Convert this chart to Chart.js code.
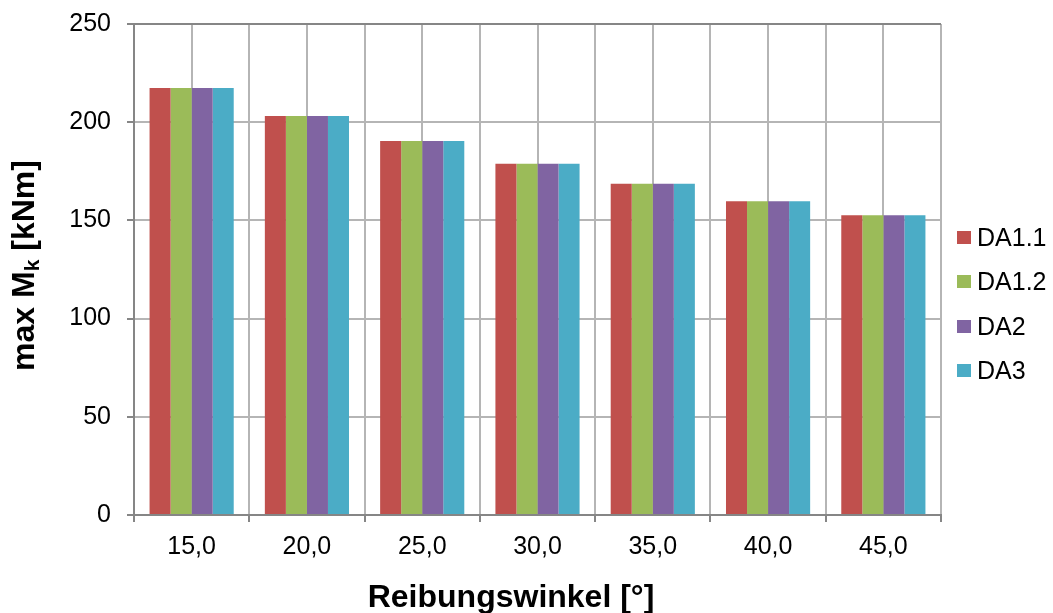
<!DOCTYPE html>
<html>
<head>
<meta charset="utf-8">
<title>max Mk je Reibungswinkel</title>
<script src="https://cdn.jsdelivr.net/npm/chart.js@4.4.0/dist/chart.umd.min.js"></script>
<style>
  html, body { margin: 0; padding: 0; background: #fff; }
  #wrap { position: relative; width: 1053px; height: 613px; }
  #legend {
    position: absolute; left: 957px; top: 215px;
    margin: 0; padding: 0; list-style: none;
    font: 25px "Liberation Sans", Arial, sans-serif; color: #000;
  }
  #legend li { display: flex; align-items: center; height: 44.5px; white-space: nowrap; }
  #legend .box { display: inline-block; width: 14px; height: 13px; margin-right: 6px; }
</style>
</head>
<body>
<div id="wrap">
  <canvas id="chart" width="1053" height="613"></canvas>
  <ul id="legend"></ul>
</div>
<script>
// Reibungswinkel-Stufen und max. Moment je Nachweisverfahren
const categories = ['15,0', '20,0', '25,0', '30,0', '35,0', '40,0', '45,0'];
const da11 = [217.4, 203.2, 190.4, 178.9, 168.7, 159.7, 152.6];
const da12 = [217.4, 203.2, 190.4, 178.9, 168.7, 159.7, 152.6];
const da2  = [217.4, 203.2, 190.4, 178.9, 168.7, 159.7, 152.6];
const da3  = [217.4, 203.2, 190.4, 178.9, 168.7, 159.7, 152.6];
const seriesNames = ['DA1.1', 'DA1.2', 'DA2', 'DA3'];
const seriesColors = ['#C0504D', '#9BBB59', '#8064A2', '#4BACC6'];
const yTicks = [0, 50, 100, 150, 200, 250];

const FONT = '"Liberation Sans", Arial, sans-serif';
const AXIS_GRAY = '#868686';
const GRID_GRAY = '#b5b5b5';

Chart.defaults.font.family = FONT;
Chart.defaults.color = '#000';

// axis titles: y title needs a subscript k, so both are drawn here
const axisTitlePlugin = {
    id: 'axisTitles',
    afterDraw(chart) {
        const c = chart.ctx;
        const area = chart.chartArea;
        const parts = [
            { text: 'max M', font: 'bold 32px ' + FONT, dy: 0 },
            { text: 'k', font: 'bold 21px ' + FONT, dy: 5 },
            { text: ' [kNm]', font: 'bold 32px ' + FONT, dy: 0 }
        ];
        c.save();
        c.fillStyle = '#000';
        c.textBaseline = 'alphabetic';
        c.textAlign = 'left';
        let total = 0;
        parts.forEach(p => { c.font = p.font; p.w = c.measureText(p.text).width; total += p.w; });
        c.save();
        c.translate(34, (area.top + area.bottom) / 2 - 4);
        c.rotate(-Math.PI / 2);
        let x = -total / 2;
        parts.forEach(p => {
            c.font = p.font;
            c.fillText(p.text, x, p.dy);
            x += p.w;
        });
        c.restore();

        c.font = 'bold 32px ' + FONT;
        c.textAlign = 'center';
        c.fillText('Reibungswinkel [°]', 511, 607);
        c.restore();
    }
};

// keep the plot area fixed: no extra label padding from the axes
function noPadding(scale) {
    scale.paddingTop = 0;
    scale.paddingBottom = 0;
    scale.paddingLeft = 0;
    scale.paddingRight = 0;
}

const ctx = document.getElementById('chart');
const data = [da11, da12, da2, da3];

const chart = new Chart(ctx, {
    type: 'bar',
    data: {
        labels: categories,
        datasets: seriesNames.map((name, i) => ({
            label: name,
            data: data[i],
            backgroundColor: seriesColors[i],
            borderWidth: 0,
            categoryPercentage: 0.73,
            barPercentage: 1.0
        }))
    },
    options: {
        responsive: false,
        animation: false,
        layout: {
            padding: { left: 0, top: 24, right: 112, bottom: 0 }
        },
        plugins: {
            legend: { display: false },
            tooltip: { enabled: false }
        },
        scales: {
            x: {
                offset: true,
                grid: {
                    offset: true,
                    color: GRID_GRAY,
                    lineWidth: 2,
                    tickLength: 7,
                    tickColor: AXIS_GRAY,
                    tickWidth: 2
                },
                border: { display: true, color: AXIS_GRAY, width: 2 },
                ticks: {
                    font: { size: 25 },
                    color: '#000',
                    padding: 10,
                    maxRotation: 0
                },
                afterFit: function(scale) { scale.height = 98; noPadding(scale); }
            },
            // extra gridlines through the category centres
            xc: {
                type: 'category',
                position: 'bottom',
                offset: true,
                grid: {
                    offset: false,
                    color: GRID_GRAY,
                    lineWidth: 2,
                    drawTicks: false
                },
                border: { display: false },
                ticks: { display: false },
                afterFit: function(scale) { scale.height = 0; noPadding(scale); }
            },
            y: {
                min: 0,
                max: 250,
                afterBuildTicks: function(scale) {
                    scale.ticks = yTicks.map(v => ({ value: v }));
                },
                grid: {
                    color: c => (c.tick && c.tick.value === 250) ? AXIS_GRAY : GRID_GRAY,
                    lineWidth: 2,
                    tickLength: 7,
                    tickColor: AXIS_GRAY,
                    tickWidth: 2
                },
                border: { display: true, color: AXIS_GRAY, width: 2 },
                ticks: {
                    font: { size: 25 },
                    color: '#000',
                    padding: 16
                },
                afterFit: function(scale) { scale.width = 134; noPadding(scale); }
            }
        }
    },
    plugins: [axisTitlePlugin]
});

// legend list built from the chart's datasets
const legendEl = document.getElementById('legend');
chart.data.datasets.forEach(ds => {
    const li = document.createElement('li');
    const box = document.createElement('span');
    box.className = 'box';
    box.style.background = ds.backgroundColor;
    li.appendChild(box);
    li.appendChild(document.createTextNode(ds.label));
    legendEl.appendChild(li);
});
</script>
</body>
</html>
